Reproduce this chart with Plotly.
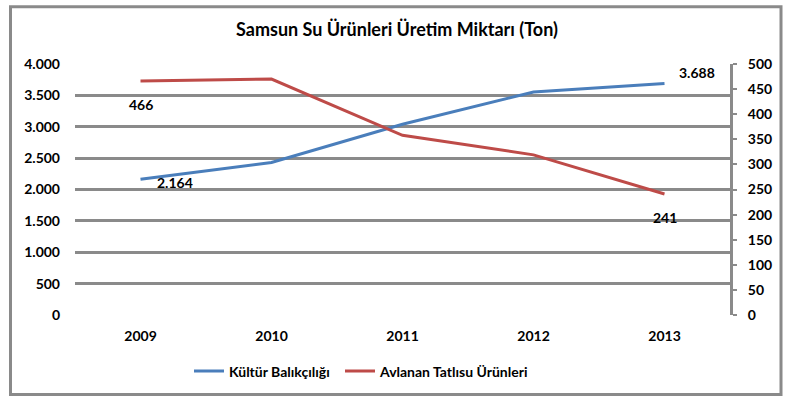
import plotly.graph_objects as go

years = ["2009", "2010", "2011", "2012", "2013"]
kultur = [2164, 2430, 3040, 3555, 3688]
avlanan = [466, 470, 358, 319, 241]

left_ticks = [0, 500, 1000, 1500, 2000, 2500, 3000, 3500, 4000]
left_ticktext = ["0", "500", "1.000", "1.500", "2.000", "2.500", "3.000", "3.500", "4.000"]
right_ticks = [0, 50, 100, 150, 200, 250, 300, 350, 400, 450, 500]

title_text = "Samsun Su Ürünleri Üretim Miktarı (Ton)"
name_kultur = "Kültür Balıkçılığı"
name_avlanan = "Avlanan Tatlısu Ürünleri"

FONT = "Lato, 'Liberation Sans', sans-serif"
BLUE = "#4a7ebb"
RED = "#be4b48"
GRID = "#8a8a8a"


def fmt(v):
    return f"{v:,}".replace(",", ".")


fig = go.Figure()
fig.add_trace(go.Scatter(x=years, y=kultur, name=name_kultur, mode="lines",
                         line=dict(color=BLUE, width=3), yaxis="y", legend="legend",
                         showlegend=True))
fig.add_trace(go.Scatter(x=years, y=avlanan, name=name_avlanan, mode="lines",
                         line=dict(color=RED, width=3), yaxis="y2", legend="legend2",
                         showlegend=True))

first, last = 0, len(years) - 1
annotations = [
    dict(x=first, y=avlanan[first], yref="y2", text=fmt(avlanan[first]), yshift=-23, xshift=0),
    dict(x=first, y=kultur[first], yref="y", text=fmt(kultur[first]), yshift=-3, xshift=34),
    dict(x=last, y=kultur[last], yref="y", text=fmt(kultur[last]), yshift=11, xshift=32),
    dict(x=last, y=avlanan[last], yref="y2", text=fmt(avlanan[last]), yshift=-23, xshift=0),
]
for a in annotations:
    a.update(xref="x", showarrow=False, font=dict(family=FONT, size=14, color="black", weight="bold"))

legend_font = dict(family=FONT, size=14, color="black", weight="bold")

fig.update_layout(
    width=789, height=400,
    showlegend=True,
    margin=dict(l=75, r=59, t=64, b=82),
    paper_bgcolor="white", plot_bgcolor="white",
    title=dict(text=title_text, x=397 / 789, xanchor="center",
               y=1 - 30 / 400, yanchor="middle",
               font=dict(family=FONT, size=18, color="black", weight="bold")),
    font=dict(family=FONT, size=13, color="black"),
    xaxis=dict(type="category", range=[-0.5, 4.5], showgrid=False, showline=False, ticks="",
               tickfont=dict(family=FONT, size=14, color="black", weight="bold"),
               ticklabelstandoff=11, zeroline=False),
    yaxis=dict(range=[0, 4000], tickvals=left_ticks, ticktext=left_ticktext,
               showgrid=True, gridcolor=GRID, gridwidth=3, zeroline=False, showline=False,
               ticks="", tickfont=dict(family=FONT, size=14, color="black", weight="bold"),
               ticklabelstandoff=14),
    yaxis2=dict(range=[0, 500], tickvals=right_ticks, overlaying="y", side="right",
                showgrid=False, zeroline=False, showline=True, linecolor=GRID, linewidth=3,
                ticks="outside", ticklen=4, tickwidth=2, tickcolor=GRID,
                tickfont=dict(family=FONT, size=14, color="black", weight="bold"),
                ticklabelstandoff=8),
    legend=dict(orientation="h", x=(189 - 75) / 655, xanchor="left", y=-0.225, yanchor="middle",
                font=legend_font, itemwidth=30, bgcolor="rgba(0,0,0,0)"),
    legend2=dict(orientation="h", x=(340 - 75) / 655, xanchor="left", y=-0.225, yanchor="middle",
                 font=legend_font, itemwidth=30, bgcolor="rgba(0,0,0,0)"),
    annotations=annotations,
    shapes=[dict(type="rect", xref="paper", yref="paper",
                 x0=(10.5 - 75) / 655, x1=(781 - 75) / 655,
                 y0=(318 - 398.5) / 254, y1=(318 - 6) / 254,
                 line=dict(color=GRID, width=3), fillcolor="rgba(0,0,0,0)", layer="below")],
)

fig.write_html("out.html", config={"displayModeBar": False},
               post_script="document.body.style.margin='0px';")
